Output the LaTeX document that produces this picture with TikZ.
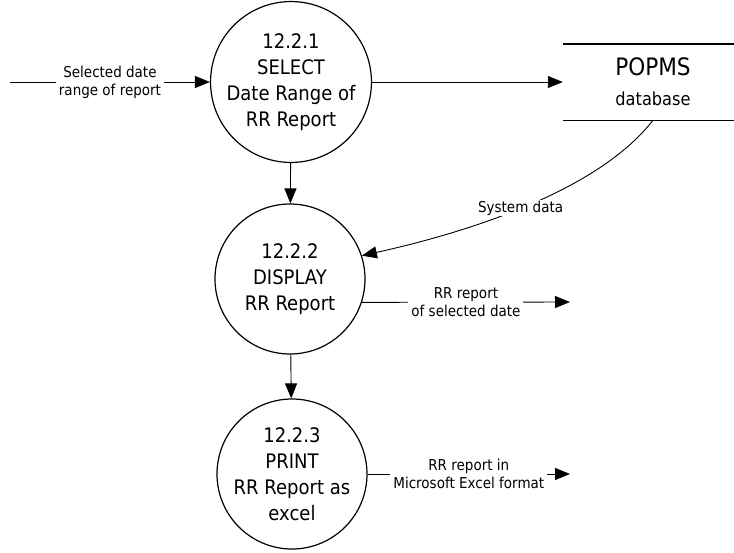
\documentclass[tikz,border=0pt]{standalone}
\usepackage{fontspec}
\setmainfont{DejaVu Sans}[FakeStretch=0.9]
\usetikzlibrary{arrows.meta}

\begin{document}
\begin{tikzpicture}[x=1pt, y=-1pt,
    every node/.style={align=center},
    proc/.style={circle, draw, line width=1.2pt, minimum size=150pt, inner sep=0pt,
        font=\fontsize{20}{26}\selectfont},
    flow/.style={line width=0.9pt, -{Triangle[length=15pt,width=12pt]}},
    lbl/.style={fill=white, inner xsep=3pt, inner ysep=1pt, font=\fontsize{15}{18}\selectfont}]
    \useasboundingbox (0,0) rectangle (734,552);
    % processes
    \node[proc] (p1) at (291,82) {12.2.1\\SELECT\\Date Range of\\RR Report};
    \node[proc] (p2) at (290,279) {12.2.2\\DISPLAY\\RR Report};
    \node[proc] (p3) at (292,474) {12.2.3\\PRINT\\RR Report as\\excel};
    % data store
    \node[minimum width=180pt, minimum height=76pt, inner sep=0pt,
        font=\fontsize{18}{30}\selectfont] (db) at (653,82)
        {{\fontsize{24}{30}\selectfont POPMS}\\database};
    \draw[line width=1.4pt] (db.north west) -- (db.north east)
        (db.south west) -- (db.south east);
    % flows
    \coordinate (src) at (10,82);
    \coordinate (o2) at (570,302);
    \coordinate (o3) at (570,474);
    \draw[flow] (src) -- node[lbl] {Selected date\\range of report} (p1.west);
    \draw[flow] (p1.east) -- (db.west);
    \draw[flow] (p1) -- (p2);
    \draw[flow] (p2) -- (p3);
    \draw[flow] (db.south) .. controls (595,195) and (455,235) .. (p2.18)
        node[lbl, pos=0.5] {System data};
    \draw[flow] (p2.-18) -- node[lbl] {RR report\\of selected date} (o2);
    \draw[flow] (p3.east) -- node[lbl] {RR report in\\Microsoft Excel format} (o3);
\end{tikzpicture}
\end{document}
